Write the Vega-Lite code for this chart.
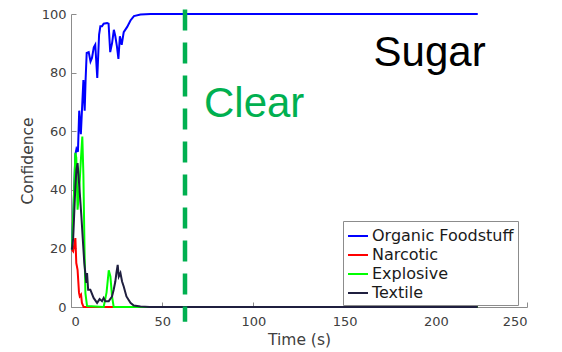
{
  "$schema": "https://vega.github.io/schema/vega-lite/v6.json",
  "width": 456,
  "height": 293,
  "autosize": {"type": "none"},
  "padding": {"left": 71, "top": 14, "right": 35, "bottom": 45},
  "background": "white",
  "config": {
    "view": {"stroke": null},
    "font": "DejaVu Sans",
    "axis": {
      "domainColor": "#8c8c8c",
      "tickColor": "#8c8c8c",
      "labelColor": "#404040",
      "titleColor": "#404040",
      "labelFont": "DejaVu Sans",
      "titleFont": "DejaVu Sans",
      "labelFontSize": 13,
      "titleFontSize": 15.5,
      "titleFontWeight": "normal",
      "grid": false,
      "tickSize": -5
    }
  },
  "layer": [
    {
      "data": {"values": [
        {"t": 0.5, "v": 19.6, "s": "Organic Foodstuff"},
        {"t": 1.4, "v": 34, "s": "Organic Foodstuff"},
        {"t": 2.4, "v": 52, "s": "Organic Foodstuff"},
        {"t": 3.0, "v": 54, "s": "Organic Foodstuff"},
        {"t": 3.8, "v": 53, "s": "Organic Foodstuff"},
        {"t": 4.5, "v": 67, "s": "Organic Foodstuff"},
        {"t": 5.4, "v": 59, "s": "Organic Foodstuff"},
        {"t": 6.0, "v": 67, "s": "Organic Foodstuff"},
        {"t": 6.8, "v": 77.5, "s": "Organic Foodstuff"},
        {"t": 7.5, "v": 67, "s": "Organic Foodstuff"},
        {"t": 8.0, "v": 77.5, "s": "Organic Foodstuff"},
        {"t": 8.6, "v": 86.7, "s": "Organic Foodstuff"},
        {"t": 9.7, "v": 87, "s": "Organic Foodstuff"},
        {"t": 10.7, "v": 83.8, "s": "Organic Foodstuff"},
        {"t": 11.5, "v": 85, "s": "Organic Foodstuff"},
        {"t": 12.5, "v": 88.6, "s": "Organic Foodstuff"},
        {"t": 13.3, "v": 89.5, "s": "Organic Foodstuff"},
        {"t": 14.4, "v": 78.2, "s": "Organic Foodstuff"},
        {"t": 15.4, "v": 93, "s": "Organic Foodstuff"},
        {"t": 16.1, "v": 95.8, "s": "Organic Foodstuff"},
        {"t": 17.0, "v": 95.8, "s": "Organic Foodstuff"},
        {"t": 17.9, "v": 96.7, "s": "Organic Foodstuff"},
        {"t": 19.8, "v": 96.9, "s": "Organic Foodstuff"},
        {"t": 20.6, "v": 96.7, "s": "Organic Foodstuff"},
        {"t": 21.5, "v": 87, "s": "Organic Foodstuff"},
        {"t": 22.5, "v": 90, "s": "Organic Foodstuff"},
        {"t": 23.5, "v": 94.6, "s": "Organic Foodstuff"},
        {"t": 24.3, "v": 92.4, "s": "Organic Foodstuff"},
        {"t": 25.2, "v": 88.9, "s": "Organic Foodstuff"},
        {"t": 26.0, "v": 84.7, "s": "Organic Foodstuff"},
        {"t": 26.8, "v": 92.4, "s": "Organic Foodstuff"},
        {"t": 27.8, "v": 89.5, "s": "Organic Foodstuff"},
        {"t": 28.9, "v": 93.8, "s": "Organic Foodstuff"},
        {"t": 30.8, "v": 95.6, "s": "Organic Foodstuff"},
        {"t": 32.6, "v": 97.8, "s": "Organic Foodstuff"},
        {"t": 34.5, "v": 99.3, "s": "Organic Foodstuff"},
        {"t": 38.1, "v": 99.8, "s": "Organic Foodstuff"},
        {"t": 43.6, "v": 100, "s": "Organic Foodstuff"},
        {"t": 223, "v": 100, "s": "Organic Foodstuff"},
        {"t": 0.5, "v": 19.6, "s": "Narcotic"},
        {"t": 1.2, "v": 19, "s": "Narcotic"},
        {"t": 2.4, "v": 23.5, "s": "Narcotic"},
        {"t": 2.9, "v": 15, "s": "Narcotic"},
        {"t": 3.6, "v": 12.7, "s": "Narcotic"},
        {"t": 4.4, "v": 4.8, "s": "Narcotic"},
        {"t": 4.8, "v": 3.6, "s": "Narcotic"},
        {"t": 5.5, "v": 4.2, "s": "Narcotic"},
        {"t": 6.0, "v": 1.4, "s": "Narcotic"},
        {"t": 6.9, "v": 0, "s": "Narcotic"},
        {"t": 223, "v": 0, "s": "Narcotic"},
        {"t": 0.5, "v": 19.6, "s": "Explosive"},
        {"t": 1.4, "v": 34.3, "s": "Explosive"},
        {"t": 2.4, "v": 52.6, "s": "Explosive"},
        {"t": 2.9, "v": 51, "s": "Explosive"},
        {"t": 3.6, "v": 33.2, "s": "Explosive"},
        {"t": 4.5, "v": 40, "s": "Explosive"},
        {"t": 5.4, "v": 50, "s": "Explosive"},
        {"t": 6.2, "v": 58.2, "s": "Explosive"},
        {"t": 6.8, "v": 45, "s": "Explosive"},
        {"t": 7.4, "v": 20, "s": "Explosive"},
        {"t": 7.9, "v": 4.7, "s": "Explosive"},
        {"t": 8.8, "v": 0.3, "s": "Explosive"},
        {"t": 17.9, "v": 0, "s": "Explosive"},
        {"t": 19.5, "v": 5, "s": "Explosive"},
        {"t": 20.7, "v": 12.5, "s": "Explosive"},
        {"t": 21.6, "v": 10.4, "s": "Explosive"},
        {"t": 22.5, "v": 3.6, "s": "Explosive"},
        {"t": 23.4, "v": 0, "s": "Explosive"},
        {"t": 223, "v": 0, "s": "Explosive"},
        {"t": 0.5, "v": 19.6, "s": "Textile"},
        {"t": 1.2, "v": 23.5, "s": "Textile"},
        {"t": 2.4, "v": 41.2, "s": "Textile"},
        {"t": 3.0, "v": 47, "s": "Textile"},
        {"t": 3.6, "v": 49.1, "s": "Textile"},
        {"t": 4.7, "v": 40, "s": "Textile"},
        {"t": 5.7, "v": 30.9, "s": "Textile"},
        {"t": 6.6, "v": 21.8, "s": "Textile"},
        {"t": 7.3, "v": 15, "s": "Textile"},
        {"t": 8.4, "v": 8.2, "s": "Textile"},
        {"t": 8.8, "v": 11.6, "s": "Textile"},
        {"t": 9.4, "v": 5.9, "s": "Textile"},
        {"t": 10.6, "v": 5.9, "s": "Textile"},
        {"t": 12.4, "v": 3.1, "s": "Textile"},
        {"t": 14.3, "v": 1.4, "s": "Textile"},
        {"t": 15.7, "v": 2.7, "s": "Textile"},
        {"t": 17.0, "v": 2, "s": "Textile"},
        {"t": 17.9, "v": 3.1, "s": "Textile"},
        {"t": 18.8, "v": 2, "s": "Textile"},
        {"t": 20.7, "v": 2, "s": "Textile"},
        {"t": 22.5, "v": 3.6, "s": "Textile"},
        {"t": 23.4, "v": 5.9, "s": "Textile"},
        {"t": 24.3, "v": 8.7, "s": "Textile"},
        {"t": 24.9, "v": 11.6, "s": "Textile"},
        {"t": 25.6, "v": 14.4, "s": "Textile"},
        {"t": 26.2, "v": 10.4, "s": "Textile"},
        {"t": 27.1, "v": 11.6, "s": "Textile"},
        {"t": 28.0, "v": 8.7, "s": "Textile"},
        {"t": 28.9, "v": 7, "s": "Textile"},
        {"t": 30.4, "v": 3.6, "s": "Textile"},
        {"t": 32.6, "v": 1.4, "s": "Textile"},
        {"t": 34.4, "v": 0.5, "s": "Textile"},
        {"t": 38.1, "v": 0.2, "s": "Textile"},
        {"t": 43, "v": 0, "s": "Textile"},
        {"t": 223, "v": 0, "s": "Textile"}
      ]},
      "mark": {"type": "line", "strokeWidth": 2},
      "encoding": {
        "x": {"field": "t", "type": "quantitative", "scale": {"domain": [0, 250], "nice": false},
              "axis": {"title": "Time (s)", "values": [0, 50, 100, 150, 200, 250], "labelPadding": 13, "titlePadding": 4}},
        "y": {"field": "v", "type": "quantitative", "scale": {"domain": [0, 100], "nice": false},
              "axis": {"title": "Confidence", "values": [0, 20, 40, 60, 80, 100], "labelPadding": 10, "titlePadding": 6}},
        "color": {"field": "s", "type": "nominal",
          "scale": {"domain": ["Organic Foodstuff", "Narcotic", "Explosive", "Textile"],
                    "range": ["#0000ff", "#ff0000", "#00ff00", "#1f1f3f"]},
          "legend": {
            "title": null, "orient": "none", "legendX": 272, "legendY": 207,
            "symbolType": "stroke", "symbolSize": 400, "symbolStrokeWidth": 2,
            "labelFont": "DejaVu Sans", "labelFontSize": 16, "labelColor": "#1a1a1a",
            "labelOffset": 3, "rowPadding": 0,
            "strokeColor": "#8c8c8c", "fillColor": "white", "padding": 4
          }
        },
        "order": {"field": "t"}
      }
    },
    {
      "data": {"values": [{"t": 62.5}]},
      "mark": {"type": "rule", "color": "#00b050", "strokeWidth": 4.5, "strokeDash": [21, 12], "strokeCap": "butt", "clip": false},
      "encoding": {
        "x": {"field": "t", "type": "quantitative"},
        "y": {"datum": 101.5},
        "y2": {"datum": -5}
      }
    },
    {
      "data": {"values": [{"label": "Clear", "t": 72.9, "v": 65.0}]},
      "mark": {"type": "text", "font": "Liberation Sans", "fontSize": 42, "color": "#00b050", "align": "left", "baseline": "alphabetic"},
      "encoding": {
        "x": {"field": "t", "type": "quantitative"},
        "y": {"field": "v", "type": "quantitative"},
        "text": {"field": "label"}
      }
    },
    {
      "data": {"values": [{"label": "Sugar", "t": 165.9, "v": 82.1}]},
      "mark": {"type": "text", "font": "Liberation Sans", "fontSize": 42, "color": "#000000", "align": "left", "baseline": "alphabetic"},
      "encoding": {
        "x": {"field": "t", "type": "quantitative"},
        "y": {"field": "v", "type": "quantitative"},
        "text": {"field": "label"}
      }
    }
  ]
}
